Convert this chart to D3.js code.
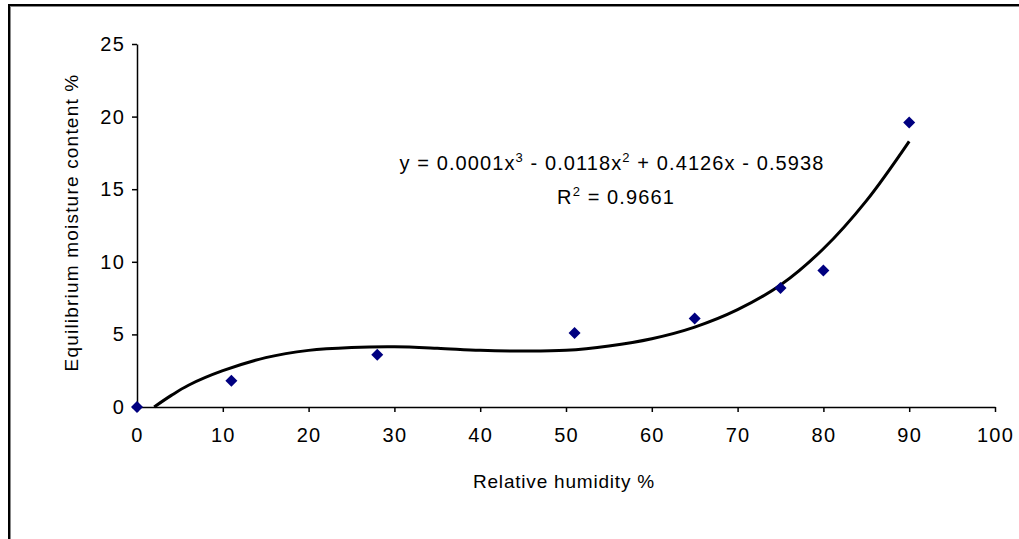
<!DOCTYPE html>
<html>
<head>
<meta charset="utf-8">
<script src="https://cdn.jsdelivr.net/npm/d3@7"></script>
<style>
    body { margin: 0; background: #fff; }
    text { font-family: "Liberation Sans", Arial, sans-serif; fill: #000; }
</style>
</head>
<body>
<div class="chart"></div>
<script>
// Measured points
let humidity = [0, 11, 28, 51, 65, 75, 80, 90];
let moisture = [0, 1.8, 3.6, 5.1, 6.1, 8.2, 9.4, 19.6];

// Polynomial trendline
let trendX = [2, 4, 6, 10, 15, 20, 25, 30, 35, 40, 45, 50, 55, 60, 65, 70, 75, 80, 85, 90];
let trendY = [0, 0.8, 1.5, 2.5, 3.4, 3.9, 4.1, 4.15, 4.05, 3.9, 3.85, 3.9, 4.2, 4.7, 5.5, 6.7, 8.4, 10.9, 14.2, 18.3];

let xTicks = [0, 10, 20, 30, 40, 50, 60, 70, 80, 90, 100];
let yTicks = [0, 5, 10, 15, 20, 25];

let margin = { top: 44, right: 24, bottom: 132, left: 137 };
let totalW = 1019;
let totalH = 539;
let width = totalW - margin.left - margin.right;
let height = totalH - margin.top - margin.bottom;

const root = d3.select(".chart")
    .append("svg")
    .attr("width", totalW)
    .attr("height", totalH);

// chart frame (cut off at right and bottom)
root.append("rect")
    .attr("x", 9).attr("y", 5)
    .attr("width", 1100).attr("height", 600)
    .attr("fill", "none")
    .attr("stroke", "#000")
    .attr("stroke-width", 2);
root.append("line")
    .attr("x1", 10).attr("x2", 1019).attr("y1", 6.5).attr("y2", 6.5)
    .attr("stroke", "#888").attr("stroke-width", 1);
root.append("line")
    .attr("x1", 10.5).attr("x2", 10.5).attr("y1", 6).attr("y2", 539)
    .attr("stroke", "#888").attr("stroke-width", 1);

const svg = root.append("g")
    .attr("transform", `translate(${margin.left},${margin.top})`);

const x = d3.scaleLinear().domain([0, 100]).range([0, width]);
const y = d3.scaleLinear().domain([0, 25]).range([height, 0]);

const xAxis = svg.append("g")
    .attr("transform", `translate(0, ${height})`)
    .call(d3.axisBottom(x).tickValues(xTicks).tickSize(5).tickSizeOuter(0).tickPadding(16));

const yAxis = svg.append("g")
    .call(d3.axisLeft(y).tickValues(yTicks).tickSize(5).tickSizeOuter(0).tickPadding(7));

[xAxis, yAxis].forEach((a) => {
    a.selectAll("path, line").attr("stroke", "#000").attr("stroke-width", 1.5);
    a.selectAll("text")
        .attr("font-size", "20px")
        .attr("letter-spacing", "1.2px")
        .attr("fill", "#000");
});

svg.append("text")
    .attr("x", width / 2 - 2)
    .attr("y", height + 81)
    .attr("text-anchor", "middle")
    .attr("font-size", "19px")
    .attr("letter-spacing", "0.8px")
    .text("Relative humidity %");

svg.append("text")
    .attr("transform", `translate(${78 - margin.left}, ${height / 2 - 3}) rotate(-90)`)
    .attr("text-anchor", "middle")
    .attr("font-size", "19px")
    .attr("letter-spacing", "1.2px")
    .text("Equilibrium moisture content %");

// trendline
const line = d3.line()
    .x((d) => x(d[0]))
    .y((d) => y(d[1]))
    .curve(d3.curveCatmullRom);

svg.append("path")
    .datum(trendX.map((v, i) => [v, trendY[i]]))
    .attr("d", line)
    .attr("fill", "none")
    .attr("stroke", "#000")
    .attr("stroke-width", 3);

// markers
svg.selectAll(".pt")
    .data(humidity.map((v, i) => ({ x: v, y: moisture[i] })))
    .join("path")
    .attr("class", "pt")
    .attr("transform", (d) => `translate(${x(d.x)}, ${y(d.y)})`)
    .attr("d", "M0,-6L6,0L0,6L-6,0Z")
    .attr("fill", "#000080");

// trendline equation
const eq = svg.append("text")
    .attr("x", 612 - margin.left)
    .attr("y", 170 - margin.top)
    .attr("text-anchor", "middle")
    .attr("font-size", "20px")
    .attr("letter-spacing", "1.1px");
eq.append("tspan").text("y = 0.0001x");
eq.append("tspan").attr("dy", -8).attr("font-size", "13px").text("3");
eq.append("tspan").attr("dy", 8).text(" - 0.0118x");
eq.append("tspan").attr("dy", -8).attr("font-size", "13px").text("2");
eq.append("tspan").attr("dy", 8).text(" + 0.4126x - 0.5938");

const r2 = svg.append("text")
    .attr("x", 616 - margin.left)
    .attr("y", 204 - margin.top)
    .attr("text-anchor", "middle")
    .attr("font-size", "20px")
    .attr("letter-spacing", "1.1px");
r2.append("tspan").text("R");
r2.append("tspan").attr("dy", -8).attr("font-size", "13px").text("2");
r2.append("tspan").attr("dy", 8).text(" = 0.9661");
</script>
</body>
</html>
